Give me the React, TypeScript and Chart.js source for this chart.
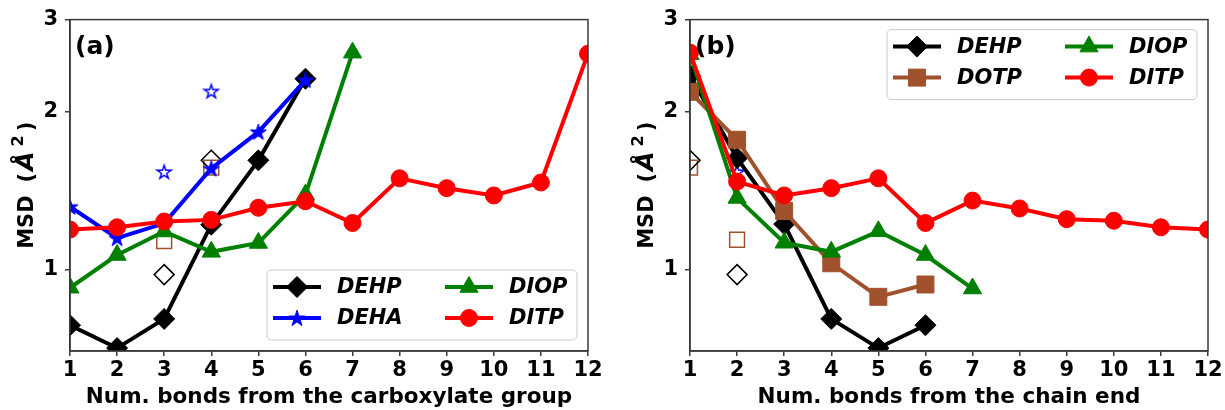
import React, { useEffect, useRef } from 'react';
import { Chart, registerables } from 'chart.js';
import { drawPoint } from 'chart.js/helpers';

Chart.register(...registerables);

// ---------------- data ----------------
const X_TICKS = [1, 2, 3, 4, 5, 6, 7, 8, 9, 10, 11, 12];
const Y_TICKS = [1, 2, 3];
const Y_MIN = 0.706;
const Y_MAX = 3;

// Panel (a): bonds from the carboxylate group
const A_DEHP = [0.784, 0.709, 0.806, 1.219, 1.617, 2.314];
const A_DEHA = [1.319, 1.149, 1.226, 1.56, 1.832, 2.3];
const A_DIOP = [0.924, 1.067, 1.183, 1.082, 1.125, 1.391, 2.595];
const A_DITP = [1.193, 1.205, 1.236, 1.245, 1.313, 1.351, 1.228, 1.494, 1.431, 1.386, 1.467, 2.582];
const A_OPEN_X = [3, 4];
const A_OPEN_DIAMOND = [0.979, 1.617];
const A_OPEN_SQUARE = [1.134, 1.566];
const A_OPEN_STAR = [1.537, 2.19];

// Panel (b): bonds from the chain end
const B_DEHP = [2.347, 1.633, 1.222, 0.806, 0.709, 0.784];
const B_DOTP = [2.185, 1.77, 1.294, 1.029, 0.888, 0.9375];
const B_DIOP = [2.576, 1.371, 1.126, 1.082, 1.184, 1.067, 0.921];
const B_DITP = [2.595, 1.473, 1.386, 1.431, 1.494, 1.228, 1.355, 1.309, 1.249, 1.24, 1.205, 1.193];
const B_OPEN_X = [1, 2];
const B_OPEN_DIAMOND = [1.617, 0.979];
const B_OPEN_SQUARE = [1.566, 1.141];
const B_OPEN_STAR = [2.19, 1.537];

const X_TITLE_A = 'Num. bonds from the carboxylate group';
const X_TITLE_B = 'Num. bonds from the chain end';

// ---------------- styles ----------------
const FONT = '"DejaVu Sans"';
const COLORS: Record<string, string> = {
  DEHP: '#000000',
  DEHA: '#0000ff',
  DIOP: '#008000',
  DITP: '#ff0000',
  DOTP: '#a0522d',
};

function makeStar(R: number, fill: string | null, stroke: string, lw: number): HTMLCanvasElement {
  const size = Math.ceil(2 * R + lw + 2);
  const c = document.createElement('canvas');
  c.width = size;
  c.height = size;
  const ctx = c.getContext('2d')!;
  const cx = size / 2;
  const cy = size / 2 + R * 0.08;
  ctx.beginPath();
  for (let i = 0; i < 10; i++) {
    const a = -Math.PI / 2 + (i * Math.PI) / 5;
    const r = i % 2 ? R * 0.382 : R;
    const px = cx + r * Math.cos(a);
    const py = cy + r * Math.sin(a);
    if (i === 0) ctx.moveTo(px, py);
    else ctx.lineTo(px, py);
  }
  ctx.closePath();
  if (fill) {
    ctx.fillStyle = fill;
    ctx.fill();
  }
  ctx.lineWidth = lw;
  ctx.strokeStyle = stroke;
  ctx.lineJoin = 'miter';
  ctx.stroke();
  return c;
}

let STAR_FILLED: HTMLCanvasElement | null = null;
let STAR_OPEN: HTMLCanvasElement | null = null;
function stars() {
  if (!STAR_FILLED) STAR_FILLED = makeStar(8.5, COLORS.DEHA, COLORS.DEHA, 1);
  if (!STAR_OPEN) STAR_OPEN = makeStar(7.2, null, COLORS.DEHA, 1.5);
  return { filled: STAR_FILLED, open: STAR_OPEN };
}

function markerFor(name: string): { style: any; radius: number } {
  switch (name) {
    case 'DEHP':
      return { style: 'rectRot', radius: 10.5 };
    case 'DEHA':
      return { style: stars().filled, radius: 8 };
    case 'DIOP':
      return { style: 'triangle', radius: 10.5 };
    case 'DITP':
      return { style: 'circle', radius: 8.5 };
    case 'DOTP':
      return { style: 'rect', radius: 12 };
  }
  return { style: 'circle', radius: 5 };
}

type Series = { name: string; values: number[] };
type PanelCfg = {
  label: string;
  xTitle: string;
  series: Series[];
  openX: number[];
  openDiamond: number[];
  openSquare: number[];
  openStar: number[];
  legendCols: string[][];
  legendCorner: 'lowerright' | 'upperright';
};

const PANEL_A: PanelCfg = {
  label: '(a)',
  xTitle: X_TITLE_A,
  series: [
    { name: 'DEHP', values: A_DEHP },
    { name: 'DEHA', values: A_DEHA },
    { name: 'DIOP', values: A_DIOP },
    { name: 'DITP', values: A_DITP },
  ],
  openX: A_OPEN_X,
  openDiamond: A_OPEN_DIAMOND,
  openSquare: A_OPEN_SQUARE,
  openStar: A_OPEN_STAR,
  legendCols: [
    ['DEHP', 'DEHA'],
    ['DIOP', 'DITP'],
  ],
  legendCorner: 'lowerright',
};

const PANEL_B: PanelCfg = {
  label: '(b)',
  xTitle: X_TITLE_B,
  series: [
    { name: 'DEHP', values: B_DEHP },
    { name: 'DOTP', values: B_DOTP },
    { name: 'DIOP', values: B_DIOP },
    { name: 'DITP', values: B_DITP },
  ],
  openX: B_OPEN_X,
  openDiamond: B_OPEN_DIAMOND,
  openSquare: B_OPEN_SQUARE,
  openStar: B_OPEN_STAR,
  legendCols: [
    ['DEHP', 'DOTP'],
    ['DIOP', 'DITP'],
  ],
  legendCorner: 'upperright',
};

const LINE_W = 4;
const FRAME_COLOR = '#3a3a3a';

function roundRect(ctx: CanvasRenderingContext2D, x: number, y: number, w: number, h: number, r: number) {
  ctx.beginPath();
  ctx.moveTo(x + r, y);
  ctx.lineTo(x + w - r, y);
  ctx.quadraticCurveTo(x + w, y, x + w, y + r);
  ctx.lineTo(x + w, y + h - r);
  ctx.quadraticCurveTo(x + w, y + h, x + w - r, y + h);
  ctx.lineTo(x + r, y + h);
  ctx.quadraticCurveTo(x, y + h, x, y + h - r);
  ctx.lineTo(x, y + r);
  ctx.quadraticCurveTo(x, y, x + r, y);
  ctx.closePath();
}

function buildConfig(cfg: PanelCfg): any {
  const n = cfg.series.length;
  const datasets: any[] = cfg.series.map((s, i) => {
    const color = COLORS[s.name];
    const m = markerFor(s.name);
    return {
      label: s.name,
      data: s.values.map((v, j) => ({ x: X_TICKS[j], y: v })),
      borderColor: color,
      backgroundColor: color,
      borderWidth: LINE_W,
      pointStyle: m.style,
      pointRadius: m.radius,
      pointBorderWidth: 1,
      pointBorderColor: color,
      pointBackgroundColor: color,
      order: n - i,
      clip: 0,
      tension: 0,
    };
  });
  const open = [
    { label: 'open diamond', vals: cfg.openDiamond, style: 'rectRot', r: 10, color: '#000000' },
    { label: 'open square', vals: cfg.openSquare, style: 'rect', r: 10.5, color: COLORS.DOTP },
    { label: 'open star', vals: cfg.openStar, style: stars().open, r: 7, color: COLORS.DEHA },
  ];
  open.forEach((o, k) => {
    datasets.push({
      label: o.label,
      data: o.vals.map((v, j) => ({ x: cfg.openX[j], y: v })),
      showLine: false,
      pointStyle: o.style,
      pointRadius: o.r,
      pointBorderWidth: 1.5,
      pointBorderColor: o.color,
      pointBackgroundColor: 'rgba(0,0,0,0)',
      borderColor: o.color,
      backgroundColor: 'rgba(0,0,0,0)',
      order: 10 + k,
      clip: 0,
    });
  });

  const overlay = {
    id: 'overlay',
    afterDatasetsDraw(chart: any) {
      const ctx: CanvasRenderingContext2D = chart.ctx;
      const { left, right, top, bottom } = chart.chartArea;
      // frame
      ctx.save();
      ctx.strokeStyle = FRAME_COLOR;
      ctx.lineWidth = 1.5;
      ctx.strokeRect(left, top, right - left, bottom - top);
      ctx.restore();

      // panel label
      ctx.save();
      ctx.fillStyle = '#000';
      ctx.font = `bold 25px ${FONT}`;
      ctx.textBaseline = 'alphabetic';
      ctx.textAlign = 'left';
      ctx.fillText(cfg.label, left + 5, top + 34);
      ctx.restore();

      // legend
      const bw = 310;
      const bh = 70;
      const bx = right - 11 - bw;
      const by = cfg.legendCorner === 'lowerright' ? bottom - 11 - bh : top + 10;
      ctx.save();
      roundRect(ctx, bx, by, bw, bh, 5);
      ctx.fillStyle = 'rgba(255,255,255,0.8)';
      ctx.fill();
      ctx.strokeStyle = '#cccccc';
      ctx.lineWidth = 1;
      ctx.stroke();
      const colOff = [0, 172];
      const rowOff = [17, 48];
      cfg.legendCols.forEach((col, ci) => {
        col.forEach((name, ri) => {
          const color = COLORS[name];
          const x0 = bx + 6 + colOff[ci];
          const y0 = by + rowOff[ri];
          ctx.beginPath();
          ctx.moveTo(x0, y0);
          ctx.lineTo(x0 + 48, y0);
          ctx.strokeStyle = color;
          ctx.lineWidth = LINE_W;
          ctx.stroke();
          const m = markerFor(name);
          ctx.fillStyle = color;
          ctx.strokeStyle = color;
          ctx.lineWidth = 1;
          drawPoint(ctx, { pointStyle: m.style, radius: m.radius, rotation: 0, borderWidth: 1 } as any, x0 + 24, y0);
          ctx.fillStyle = '#000';
          ctx.font = `italic bold 21px ${FONT}`;
          ctx.textBaseline = 'middle';
          ctx.textAlign = 'left';
          ctx.fillText(name, x0 + 64, y0 + 1);
        });
      });
      ctx.restore();

      // y axis title: MSD  (Å²)
      ctx.save();
      const cy = (top + bottom) / 2;
      ctx.translate(25, cy);
      ctx.rotate(-Math.PI / 2);
      ctx.fillStyle = '#000';
      ctx.textBaseline = 'alphabetic';
      ctx.textAlign = 'left';
      const pieces = [
        { t: 'MSD', f: `bold 21px ${FONT}`, dy: 0, gap: 0 },
        { t: '(', f: `bold 21px ${FONT}`, dy: 0, gap: 13 },
        { t: 'Å', f: `italic bold 25px ${FONT}`, dy: 0, gap: 2 },
        { t: '2', f: `bold 16px ${FONT}`, dy: -10, gap: 5 },
        { t: ')', f: `bold 21px ${FONT}`, dy: 0, gap: 4 },
      ];
      let total = 0;
      const widths = pieces.map((p) => {
        ctx.font = p.f;
        const w = ctx.measureText(p.t).width;
        total += w + p.gap;
        return w;
      });
      let x = -total / 2;
      pieces.forEach((p, i) => {
        x += p.gap;
        ctx.font = p.f;
        ctx.fillText(p.t, x, 8 + p.dy);
        x += widths[i];
      });
      ctx.restore();
    },
  };

  const tickFont = { family: FONT, size: 21, weight: 'bold' as const };

  return {
    type: 'line',
    data: { datasets },
    options: {
      animation: false,
      responsive: false,
      devicePixelRatio: 1,
      layout: { padding: { left: 0, right: 17, top: 15, bottom: 0 } },
      plugins: { legend: { display: false }, tooltip: { enabled: false } },
      scales: {
        x: {
          type: 'linear',
          min: X_TICKS[0],
          max: X_TICKS[X_TICKS.length - 1],
          afterBuildTicks: (axis: any) => {
            axis.ticks = X_TICKS.map((v) => ({ value: v }));
          },
          afterFit: (scale: any) => {
            scale.height = 59;
          },
          ticks: {
            color: '#000',
            font: tickFont,
            padding: 2,
            maxRotation: 0,
            autoSkip: false,
            callback: (v: any) => String(v),
          },
          grid: {
            drawOnChartArea: false,
            drawTicks: true,
            tickLength: 5,
            color: FRAME_COLOR,
            lineWidth: 1.5,
          },
          border: { display: true, color: FRAME_COLOR, width: 1.5 },
          title: {
            display: true,
            text: cfg.xTitle,
            color: '#000',
            font: { family: FONT, size: 21.5, weight: 'bold' },
            padding: { top: 0, bottom: 0 },
          },
        },
        y: {
          type: 'logarithmic',
          min: Y_MIN,
          max: Y_MAX,
          afterBuildTicks: (axis: any) => {
            axis.ticks = Y_TICKS.map((v) => ({ value: v }));
          },
          afterFit: (scale: any) => {
            scale.width = 70;
          },
          ticks: {
            color: '#000',
            font: tickFont,
            padding: 7,
            autoSkip: false,
            callback: (v: any) => String(v),
          },
          grid: {
            drawOnChartArea: false,
            drawTicks: true,
            tickLength: 5,
            color: FRAME_COLOR,
            lineWidth: 1.5,
          },
          border: { display: true, color: FRAME_COLOR, width: 1.5 },
        },
      },
    },
    plugins: [overlay],
  };
}

function Panel({ cfg, left }: { cfg: PanelCfg; left: number }) {
  const ref = useRef<HTMLCanvasElement>(null);
  useEffect(() => {
    if (!ref.current) return;
    const chart = new Chart(ref.current, buildConfig(cfg));
    return () => chart.destroy();
  }, [cfg]);
  return (
    <canvas
      ref={ref}
      width={605}
      height={410}
      style={{ position: 'absolute', left, top: 0, width: 605, height: 410, display: 'block' }}
    />
  );
}

export default function App() {
  Chart.defaults.font.family = FONT;
  return (
    <div style={{ position: 'absolute', left: 0, top: 0, width: 1225, height: 410, background: '#ffffff' }}>
      <Panel cfg={PANEL_A} left={0} />
      <Panel cfg={PANEL_B} left={620} />
    </div>
  );
}
